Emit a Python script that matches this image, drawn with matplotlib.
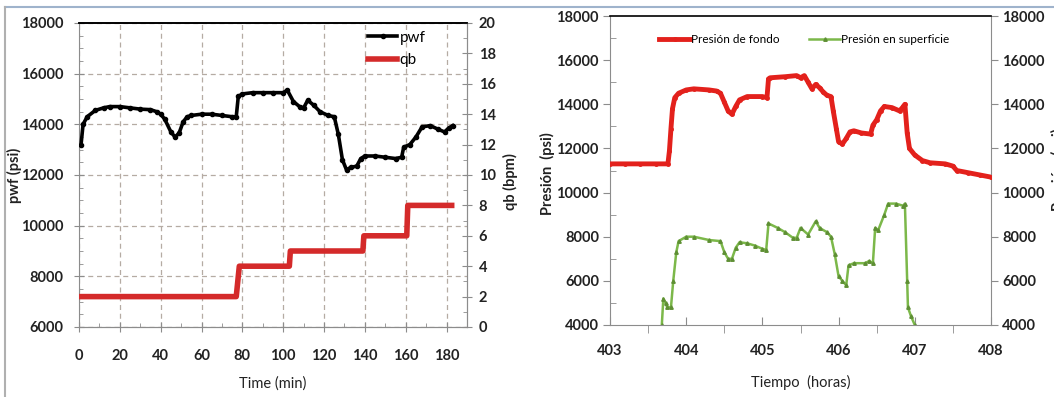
import matplotlib
matplotlib.use("Agg")
import matplotlib.pyplot as plt
from matplotlib.ticker import MultipleLocator
from matplotlib.lines import Line2D
import numpy as np

plt.rcParams['font.family'] = ['Lato', 'DejaVu Sans']
plt.rcParams['font.weight'] = 'bold'

# --- left panel: bottomhole pressure and pump rate vs time ---
t_pwf = [1, 2, 4, 8, 12, 15, 20, 25, 30, 35, 38, 40, 42, 45, 47, 49, 51, 53, 55, 60, 65, 70, 75, 77,
         78, 80, 85, 90, 95, 100, 102, 105, 108, 110, 112, 115, 118, 122, 125, 127, 129, 131, 133,
         136, 138, 140, 145, 150, 155, 158, 159, 162, 165, 168, 172, 176, 179, 181, 183]
pwf = [13200, 14000, 14300, 14550, 14650, 14700, 14700, 14650, 14600, 14580, 14500, 14400, 14200,
       13700, 13500, 13650, 14100, 14300, 14350, 14400, 14400, 14350, 14300, 14300,
       15100, 15200, 15250, 15250, 15250, 15250, 15350, 14900, 14700, 14650, 14950, 14750, 14500,
       14350, 14300, 13600, 12600, 12200, 12300, 12350, 12650, 12750, 12750, 12700, 12650, 12700,
       13100, 13200, 13500, 13900, 13950, 13800, 13700, 13850, 13950]

t_qb = [0.5, 77, 78.5, 103, 103.5, 139, 139.5, 160.5, 161, 182.5]
qb = [2, 2, 4, 4, 5, 5, 6, 6, 8, 8]

# --- right panel: downhole vs surface pressure ---
h_fondo = [403.0, 403.2, 403.4, 403.6, 403.76, 403.78, 403.8, 403.82, 403.85, 403.9, 404.0, 404.1,
           404.3, 404.4, 404.45, 404.5, 404.55, 404.6, 404.65, 404.7, 404.8, 405.0, 405.06, 405.08,
           405.1, 405.3, 405.45, 405.5, 405.55, 405.6, 405.65, 405.7, 405.75, 405.8, 405.85, 405.9,
           405.93, 405.97, 406.0, 406.05, 406.1, 406.15, 406.2, 406.3, 406.42, 406.45, 406.5, 406.55,
           406.6, 406.7, 406.8, 406.85, 406.87, 406.9, 406.93, 407.0, 407.1, 407.2, 407.4, 407.5,
           407.55, 407.7, 407.85, 408.0]
p_fondo = [11300, 11300, 11300, 11300, 11300, 11900, 12900, 13800, 14300, 14500, 14650, 14700,
           14650, 14600, 14500, 14100, 13700, 13550, 13900, 14200, 14350, 14350, 14300, 15150,
           15200, 15250, 15300, 15200, 15300, 15000, 14700, 14900, 14750, 14550, 14400, 14350,
           13700, 12900, 12300, 12200, 12450, 12750, 12800, 12700, 12650, 13050, 13300, 13700,
           13900, 13850, 13700, 13900, 14000, 12700, 12000, 11700, 11450, 11350, 11300, 11200,
           11000, 10900, 10800, 10700]

h_sup = [403.68, 403.7, 403.73, 403.75, 403.8, 403.83, 403.87, 403.9, 404.0, 404.1, 404.3, 404.45,
         404.5, 404.55, 404.6, 404.65, 404.7, 404.8, 404.9, 405.0, 405.05, 405.08, 405.2, 405.3,
         405.4, 405.45, 405.5, 405.6, 405.7, 405.75, 405.85, 405.9, 405.95, 406.0, 406.05, 406.1,
         406.13, 406.2, 406.35, 406.4, 406.45, 406.48, 406.52, 406.6, 406.65, 406.75, 406.85,
         406.87, 406.9, 406.91, 406.95, 407.0]
p_sup = [4000, 5200, 5000, 4800, 4800, 6000, 7300, 7800, 8000, 8000, 7850, 7800,
         7300, 7000, 7000, 7500, 7750, 7700, 7600, 7450, 7400, 8600, 8400, 8200,
         7950, 7950, 8400, 8100, 8700, 8400, 8200, 8000, 7200, 6200, 6000, 5800,
         6700, 6800, 6800, 6900, 6800, 8400, 8300, 9000, 9500, 9500, 9400,
         9500, 6000, 4800, 4400, 4000]

GRID = '#b5aba3'
SPINE = '#8c8c8c'
TXT = '#222222'
RED = '#e3211c'
GREEN = '#7cb84a'
TICK_FS = 10.5
LAB_FS = 10.5

fig = plt.figure(figsize=(10.54, 3.97), dpi=100)

# outer frame
fig.add_artist(Line2D([5 / 1054, 1.0], [1 - 7 / 397, 1 - 7 / 397], color='#9fb3cc', lw=1.5))
fig.add_artist(Line2D([5 / 1054, 5 / 1054], [0, 1 - 7 / 397], color='#b0b0b0', lw=1.5))


def style_axis(ax):
    for s in ('left', 'right', 'bottom'):
        ax.spines[s].set_color(SPINE)
    ax.spines['top'].set_color('black')
    ax.spines['top'].set_linewidth(1.2)
    ax.tick_params(labelcolor=TXT)


# ========== left panel ==========
ax1 = fig.add_axes([79 / 1054, 1 - 327 / 397, (467 - 79) / 1054, (327 - 23) / 397])
style_axis(ax1)
ax1.plot(t_pwf, pwf, color='black', lw=2.6, marker='o', ms=3, label='pwf', zorder=3)
ax1.set_xlim(0, 190)
ax1.set_ylim(6000, 18000)
ax1.set_xticks(np.arange(0, 181, 20))
ax1.xaxis.set_minor_locator(MultipleLocator(10))
ax1.yaxis.set_major_locator(MultipleLocator(2000))
ax1.yaxis.set_minor_locator(MultipleLocator(500))
ax1.grid(True, which='major', color=GRID, ls=(0, (4, 3)), lw=0.9)
ax1.tick_params(which='major', direction='inout', length=7, color=SPINE, labelsize=TICK_FS)
ax1.tick_params(which='minor', direction='in', length=3, color=SPINE)
ax1.tick_params(axis='x', pad=12)
ax1.tick_params(axis='y', pad=8)
ax1.set_ylabel('pwf (psi)', fontsize=LAB_FS, fontweight='bold', color=TXT)
ax1.yaxis.set_label_coords(-0.147, 0.5)
ax1.set_xlabel('Time (min)', fontsize=LAB_FS, fontweight='normal', color=TXT)
ax1.xaxis.set_label_coords(0.5, -0.164)

ax1b = ax1.twinx()
ax1b.plot(t_qb, qb, color='#d42a2a', lw=4, label='qb', zorder=2)
ax1b.set_ylim(0, 20)
ax1b.yaxis.set_major_locator(MultipleLocator(2))
ax1b.yaxis.set_minor_locator(MultipleLocator(1))
style_axis(ax1b)
ax1b.tick_params(which='major', direction='inout', length=7, color=SPINE, labelsize=TICK_FS, pad=5)
ax1b.tick_params(which='minor', direction='in', length=3, color=SPINE)
ax1b.set_ylabel('qb (bpm)', fontsize=LAB_FS, fontweight='bold', color=TXT)
ax1b.yaxis.set_label_coords(1.093, 0.48)
ax1b.spines['left'].set_visible(False)

h1, l1 = ax1.get_legend_handles_labels()
h2, l2 = ax1b.get_legend_handles_labels()
ax1b.legend(h1 + h2, l1 + l2, loc='upper left', bbox_to_anchor=(0.71, 1.02), frameon=False,
            prop={'size': 11, 'weight': 'normal'}, handlelength=1.9, handletextpad=0.15,
            labelspacing=0.55)

# ========== right panel ==========
ax2 = fig.add_axes([610 / 1054, 1 - 325 / 397, (991 - 610) / 1054, (325 - 16) / 397])
style_axis(ax2)
ax2.plot(h_fondo, p_fondo, color=RED, lw=3.5, marker='o', ms=2.5, label='Presión de fondo', zorder=3)
ax2.plot(h_sup, p_sup, color=GREEN, lw=1.8, marker='^', ms=2.5, mfc='#5e8f34', mec='#5e8f34',
         label='Presión en superficie', zorder=2)
ax2.set_xlim(403, 408)
ax2.set_ylim(4000, 18000)
ax2.xaxis.set_major_locator(MultipleLocator(1))
ax2.xaxis.set_minor_locator(MultipleLocator(0.5))
ax2.yaxis.set_major_locator(MultipleLocator(2000))
ax2.yaxis.set_minor_locator(MultipleLocator(1000))
ax2.tick_params(axis='x', which='major', direction='in', length=6, color=SPINE, labelsize=TICK_FS, pad=14)
ax2.tick_params(axis='x', which='minor', direction='out', length=6, color=SPINE)
ax2.tick_params(axis='y', which='major', direction='out', length=5, color=SPINE, labelsize=TICK_FS,
                pad=3, right=True, labelright=True)
ax2.tick_params(axis='y', which='minor', direction='in', length=4, color=SPINE)
ax2.set_ylabel('Presión  (psi)', fontsize=LAB_FS, fontweight='bold', color=TXT)
ax2.yaxis.set_label_position('left')
ax2.yaxis.set_label_coords(-0.145, 0.49)
ax2.set_xlabel('Tiempo  (horas)', fontsize=LAB_FS, fontweight='normal', color=TXT)
ax2.xaxis.set_label_coords(0.5, -0.16)
ax2.legend(loc='upper center', bbox_to_anchor=(0.51, 0.975), ncol=2, frameon=False,
           prop={'size': 8.5, 'weight': 'normal'}, handlelength=2.6, handletextpad=0.1,
           columnspacing=2.5)

# right-hand axis title, running off the edge of the figure
fig.text(1058 / 1054, 1 - 170 / 397, 'Presión  (psi)', rotation=90, ha='center', va='center',
         fontsize=LAB_FS, fontweight='bold', color=TXT)

fig.savefig('out.png', dpi=100)
